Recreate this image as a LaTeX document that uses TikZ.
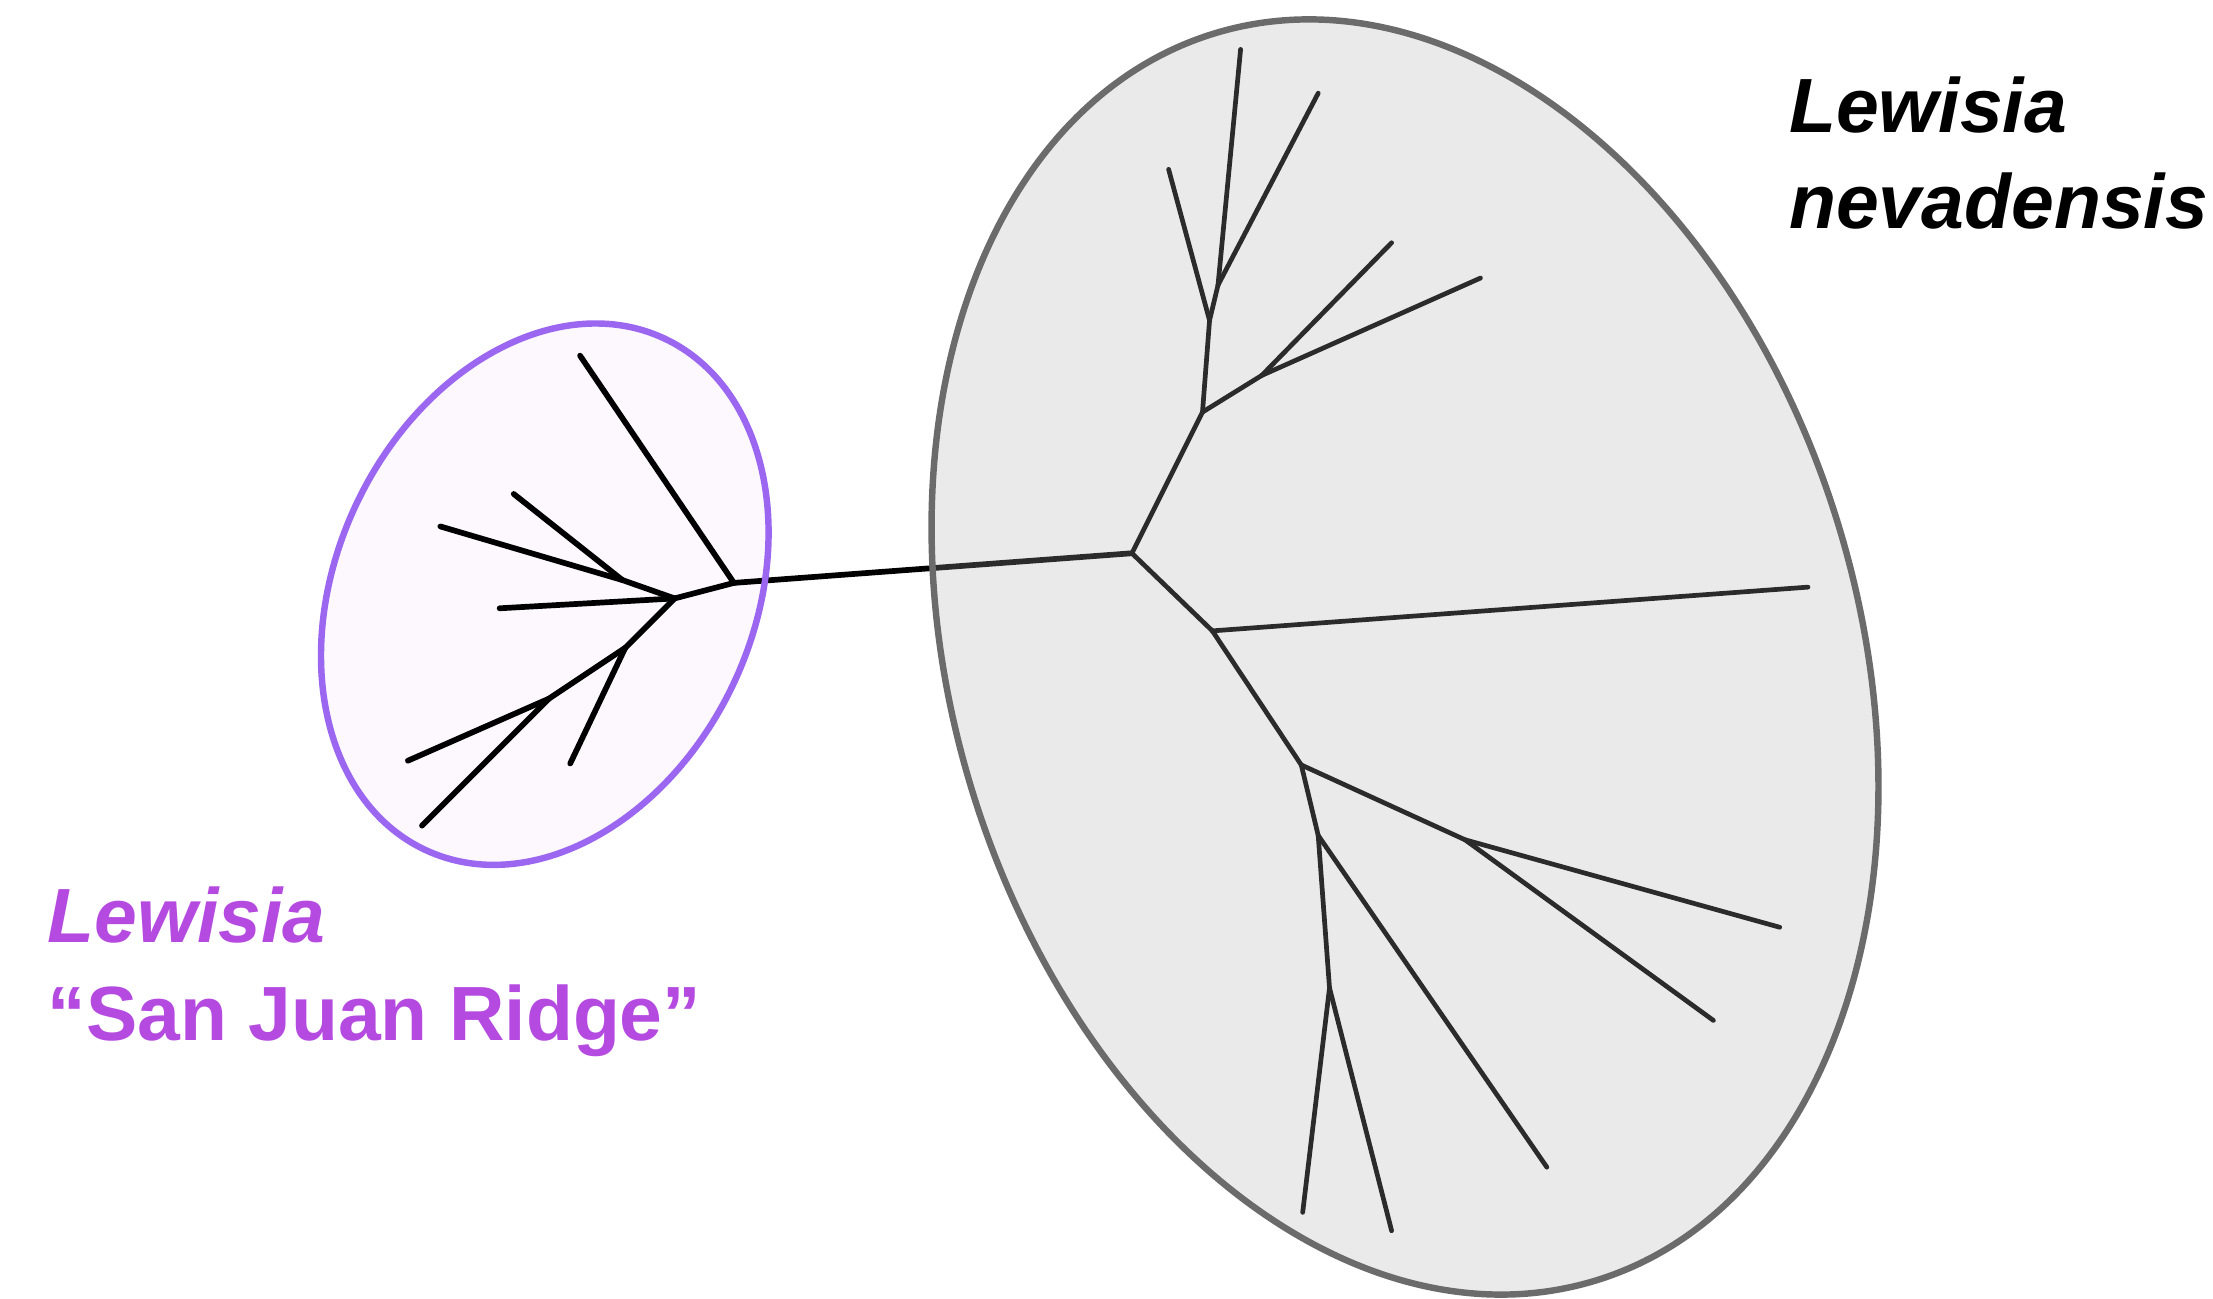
\documentclass[tikz,border=0pt]{standalone}
\usepackage{fontspec}
\setmainfont{Liberation Sans}
\usepackage{tikz}
\usetikzlibrary{positioning, calc}
\usepackage{xcolor}

\definecolor{ridgeline}{HTML}{9B66F0}
\definecolor{ridgefill}{HTML}{FCF8FD}
\definecolor{ridgetext}{HTML}{B54AE0}
\definecolor{nevline}{HTML}{6B6B6B}
\definecolor{nevfill}{HTML}{ACACAC}

\tikzset{
  twig/.style={line width=1.15pt, line cap=round, line join=round, black},
  nevtwig/.style={twig, line width=0.95pt},
  hull/.style={line width=1.3pt}, 
  taxon/.style={inner sep=0pt, anchor=base west, font=\fontsize{15.5}{18}\selectfont\bfseries}
}

\begin{document}
\begin{tikzpicture}
    \useasboundingbox (0,0) rectangle (15.68,9.20);

    % San Juan Ridge hull, filled first
    \fill[ridgefill] (3.86,4.99) ellipse [x radius=1.48, y radius=2.0, rotate=-25];

    % San Juan Ridge clade
    \coordinate (p0) at (5.20,5.07);
    \coordinate (p1) at (4.78,4.96);
    \coordinate (q1) at (4.41,5.09);
    \coordinate (r1) at (4.43,4.61);
    \coordinate (s1) at (3.89,4.25);
    \coordinate (tp1) at (4.11,6.68);
    \coordinate (tp2) at (3.12,5.47);
    \coordinate (tp3) at (3.64,5.70);
    \coordinate (tp4) at (3.54,4.89);
    \coordinate (tp5) at (4.04,3.79);
    \coordinate (tp6) at (2.89,3.81);
    \coordinate (tp7) at (2.99,3.35);

    % nevadensis clade
    \coordinate (m0) at (8.02,5.28);
    \coordinate (a0) at (8.52,6.28);
    \coordinate (b0) at (8.57,6.93);
    \coordinate (c0) at (8.63,7.18);
    \coordinate (d0) at (8.94,6.54);
    \coordinate (e0) at (8.59,4.73);
    \coordinate (f0) at (9.22,3.78);
    \coordinate (g0) at (9.34,3.28);
    \coordinate (h0) at (10.38,3.25);
    \coordinate (i0) at (9.42,2.20);
    \coordinate (tn1) at (8.28,8.00);
    \coordinate (tn2) at (8.79,8.85);
    \coordinate (tn3) at (9.34,8.54);
    \coordinate (tn4) at (9.86,7.48);
    \coordinate (tn5) at (10.49,7.23);
    \coordinate (tn6) at (12.81,5.04);
    \coordinate (tn7) at (12.61,2.63);
    \coordinate (tn8) at (12.14,1.97);
    \coordinate (tn9) at (10.96,0.93);
    \coordinate (tn10) at (9.23,0.61);
    \coordinate (tn11) at (9.86,0.48);

    % branches
    \foreach \a/\b in {p0/tp1, p0/p1, p1/q1, q1/tp2, q1/tp3, p1/tp4, p1/r1,
                       r1/tp5, r1/s1, s1/tp6, s1/tp7, p0/m0}
        \draw[twig] (\a) -- (\b);
    \foreach \a/\b in {m0/a0, a0/b0, b0/tn1, b0/c0, c0/tn2, c0/tn3,
                       a0/d0, d0/tn4, d0/tn5,
                       m0/e0, e0/tn6, e0/f0, f0/h0, h0/tn7, h0/tn8,
                       f0/g0, g0/tn9, g0/i0, i0/tn10, i0/tn11}
        \draw[nevtwig] (\a) -- (\b);

    % hull outlines
    \draw[hull, draw=nevline, fill=nevfill, fill opacity=0.25]
        (9.955,4.545) ellipse [x radius=3.21, y radius=4.62, rotate=17];
    \draw[hull, draw=ridgeline]
        (3.86,4.99) ellipse [x radius=1.48, y radius=2.0, rotate=-25];

    % labels
    \node[taxon] (nevgenus) at (12.67,8.26) {\itshape Lewisia};
    \node[taxon] (nevspecies) at (12.67,7.58) {\itshape nevadensis};
    \node[taxon, text=ridgetext] (sjrgenus) at (0.33,2.52) {\itshape Lewisia};
    \node[taxon, text=ridgetext] (sjrname) at (0.33,1.83) {“San Juan Ridge”};
\end{tikzpicture}
\end{document}
